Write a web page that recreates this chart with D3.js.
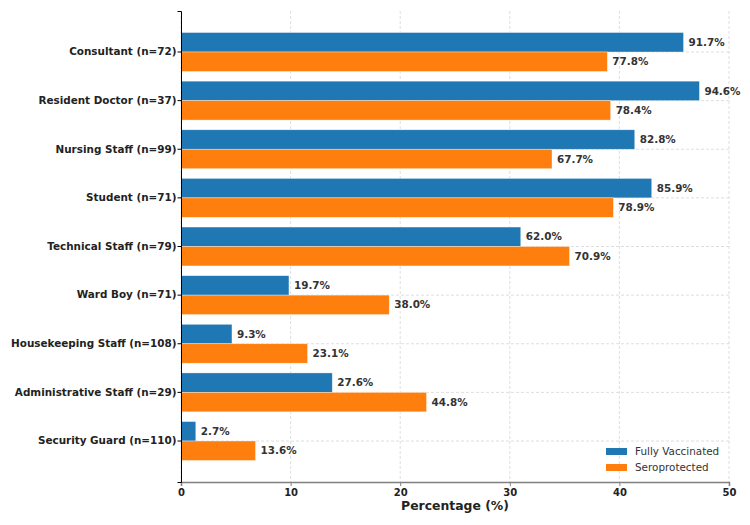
<!DOCTYPE html>
<html>
<head>
<meta charset="utf-8">
<script src="https://cdn.jsdelivr.net/npm/d3@7"></script>
<style>
  body { margin: 0; background: #fff; }
  svg { display: block; font-family: "DejaVu Sans", sans-serif; }
</style>
</head>
<body>
<script>
// categories, top to bottom
const roles = [
  "Consultant (n=72)",
  "Resident Doctor (n=37)",
  "Nursing Staff (n=99)",
  "Student (n=71)",
  "Technical Staff (n=79)",
  "Ward Boy (n=71)",
  "Housekeeping Staff (n=108)",
  "Administrative Staff (n=29)",
  "Security Guard (n=110)"
]
// percentages as printed on the bars
const fullyVaccinated = [91.7, 94.6, 82.8, 85.9, 62.0, 19.7, 9.3, 27.6, 2.7]
const seroprotected = [77.8, 78.4, 67.7, 78.9, 70.9, 38.0, 23.1, 44.8, 13.6]
const seriesNames = ["Fully Vaccinated", "Seroprotected"]
const xTicks = [0, 10, 20, 30, 40, 50]

const width = 750,
  height = 525,
  margin = { top: 11, right: 21, bottom: 43, left: 181 }

const colors = ["#1f77b4", "#ff7f0e"]
const labelSize = 10.4

// bars in the original are drawn at half the labelled value
const barValue = (v) => v / 2

const svg = d3.select("body")
  .append("svg")
  .attr("width", width)
  .attr("height", height)

const x = d3.scaleLinear()
  .domain([0, 50])
  .range([margin.left, width - margin.right])

const y = d3.scaleBand()
  .domain(roles)
  .range([margin.top, height - margin.bottom])
  .paddingInner(0.2)
  .paddingOuter(0.443)

const sub = d3.scaleBand()
  .domain(seriesNames)
  .range([0, y.bandwidth()])

// grid
svg.append("g")
  .selectAll("line")
  .data(xTicks)
  .join("line")
  .attr("x1", d => x(d))
  .attr("x2", d => x(d))
  .attr("y1", margin.top)
  .attr("y2", height - margin.bottom)
  .attr("stroke", "#d5d5d5")
  .attr("stroke-width", 0.8)
  .attr("stroke-dasharray", "3,2")

svg.append("g")
  .selectAll("line")
  .data(roles)
  .join("line")
  .attr("x1", margin.left)
  .attr("x2", width - margin.right)
  .attr("y1", d => y(d) + y.bandwidth() / 2)
  .attr("y2", d => y(d) + y.bandwidth() / 2)
  .attr("stroke", "#d5d5d5")
  .attr("stroke-width", 0.8)
  .attr("stroke-dasharray", "3,2")

// bars
const rows = roles.map((r, i) => ({ role: r, vals: [fullyVaccinated[i], seroprotected[i]] }))

const groups = svg.append("g")
  .selectAll("g")
  .data(rows)
  .join("g")
  .attr("transform", d => `translate(0,${y(d.role)})`)

groups.selectAll("rect")
  .data(d => d.vals.map((v, j) => ({ v, j })))
  .join("rect")
  .attr("x", x(0))
  .attr("y", d => sub(seriesNames[d.j]))
  .attr("width", d => x(barValue(d.v)) - x(0))
  .attr("height", sub.bandwidth())
  .attr("fill", d => colors[d.j])
  .attr("stroke", "#fff")
  .attr("stroke-opacity", 0.6)
  .attr("stroke-width", 0.6)

groups.selectAll("text")
  .data(d => d.vals.map((v, j) => ({ v, j })))
  .join("text")
  .attr("x", d => x(barValue(d.v)) + 5)
  .attr("y", d => sub(seriesNames[d.j]) + sub.bandwidth() / 2)
  .attr("dy", "0.35em")
  .attr("font-size", labelSize)
  .attr("font-weight", "bold")
  .attr("fill", "#333")
  .text(d => d.v.toFixed(1) + "%")

// x axis
const xAxis = svg.append("g")
  .attr("transform", `translate(0,${height - margin.bottom})`)
  .call(d3.axisBottom(x).tickValues(xTicks).tickSize(4).tickPadding(3))
xAxis.select(".domain").attr("stroke", "#808080").attr("stroke-width", 1.6)
xAxis.selectAll(".tick line").attr("stroke", "#808080")
xAxis.selectAll(".tick text")
  .attr("font-family", "DejaVu Sans")
  .attr("font-size", 10)
  .attr("font-weight", "bold")
  .attr("fill", "#222")

// y axis
const yAxis = svg.append("g")
  .attr("transform", `translate(${margin.left},0)`)
  .call(d3.axisLeft(y).tickSize(3.5).tickPadding(1))
yAxis.select(".domain").attr("stroke", "#000").attr("stroke-width", 1)
yAxis.selectAll(".tick line").attr("stroke", "#000")
yAxis.selectAll(".tick text")
  .attr("font-family", "DejaVu Sans")
  .attr("font-size", labelSize)
  .attr("font-weight", "bold")
  .attr("fill", "#222")

// x label
svg.append("text")
  .attr("x", (margin.left + width - margin.right) / 2)
  .attr("y", 510)
  .attr("text-anchor", "middle")
  .attr("font-size", 12.4)
  .attr("font-weight", "bold")
  .attr("fill", "#222")
  .text("Percentage (%)")

// legend
const legend = svg.append("g")
  .attr("transform", "translate(606,448)")

legend.selectAll("rect")
  .data(seriesNames)
  .join("rect")
  .attr("x", 0)
  .attr("y", (_d, i) => i * 16)
  .attr("width", 21)
  .attr("height", 7)
  .attr("fill", (_d, i) => colors[i])

legend.selectAll("text")
  .data(seriesNames)
  .join("text")
  .attr("x", 29)
  .attr("y", (_d, i) => i * 16 + 3.5)
  .attr("dy", "0.35em")
  .attr("font-size", labelSize)
  .attr("fill", "#333")
  .text(d => d)
</script>
</body>
</html>
